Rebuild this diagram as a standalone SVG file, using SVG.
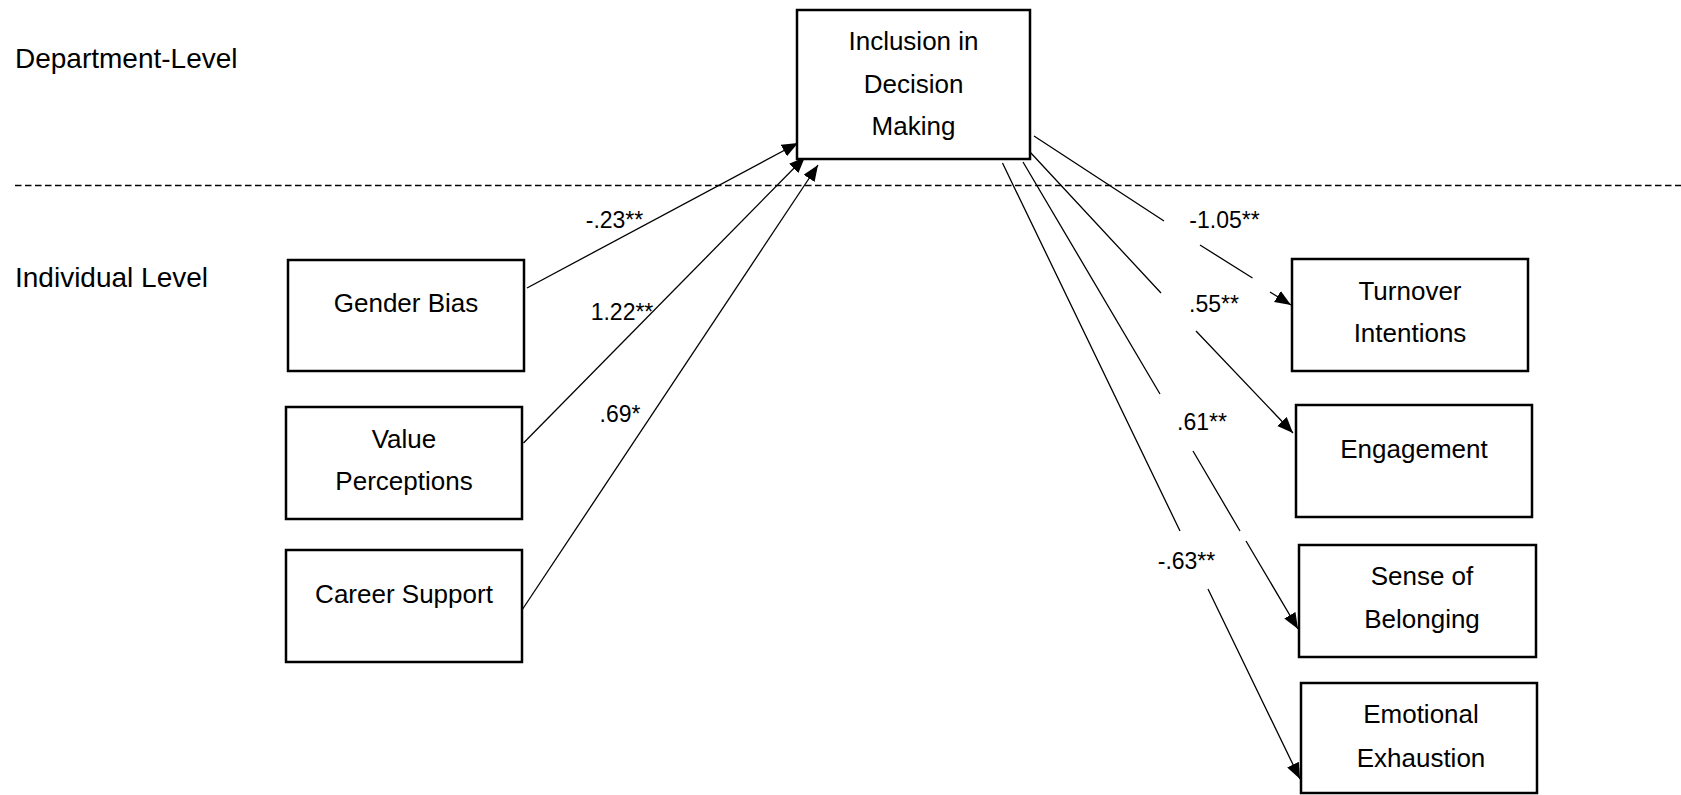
<svg xmlns="http://www.w3.org/2000/svg" width="1681" height="795" viewBox="0 0 1681 795">
<style>
  .box { fill: #ffffff; stroke: #000000; stroke-width: 2.5; }
  .t { font-family: "Liberation Sans", Arial, sans-serif; font-size: 26px; fill: #000000; text-anchor: middle; }
  .lvl { font-family: "Liberation Sans", Arial, sans-serif; font-size: 28px; fill: #000000; }
  .lab { font-family: "Liberation Sans", Arial, sans-serif; font-size: 23px; fill: #000000; text-anchor: middle; }
  .con { fill: none; stroke: #000000; stroke-width: 1.3; marker-end: url(#arr); }
  .dash { fill: none; stroke: #000000; stroke-width: 1.4; stroke-dasharray: 6.5 3.5; }
</style>
<defs>
  <marker id="arr" markerUnits="userSpaceOnUse" markerWidth="18" markerHeight="14" refX="16" refY="6.5" orient="auto">
    <path d="M0,0 L16,6.5 L0,13 z" fill="#000000"/>
  </marker>
</defs>
<rect x="0" y="0" width="1681" height="795" fill="#ffffff"/>

<g id="levels">
  <text class="lvl" x="15" y="68">Department-Level</text>
  <text class="lvl" x="15" y="287">Individual Level</text>
  <line class="dash" x1="15" y1="185.5" x2="1681" y2="185.5"/>
</g>

<g id="connectors">
  <path class="con" d="M527,288 L798,143"/>
  <path class="con" d="M523.5,443 L805,157"/>
  <path class="con" d="M522,610 L818,165"/>
  <path class="con" d="M1034,136 L1164,221 M1200,245 L1252.5,278 M1270,292 L1291,305"/>
  <path class="con" d="M1030,152 L1161,293 M1196,331 L1293,433"/>
  <path class="con" d="M1023,162 L1160,394 M1193,451 L1240,531 M1246,541 L1298,629"/>
  <path class="con" d="M1002.5,163 L1180,531 M1208,589 L1300,779"/>
</g>

<g id="edge-labels">
  <text class="lab" x="614.5" y="228">-.23**</text>
  <text class="lab" x="622" y="320">1.22**</text>
  <text class="lab" x="620" y="422">.69*</text>
  <text class="lab" x="1224.5" y="228">-1.05**</text>
  <text class="lab" x="1214" y="312">.55**</text>
  <text class="lab" x="1202" y="430">.61**</text>
  <text class="lab" x="1186.5" y="569">-.63**</text>
</g>

<g id="inclusion">
  <rect class="box" x="797" y="10" width="233" height="149"/>
  <text class="t" x="913.5" y="50">Inclusion in</text>
  <text class="t" x="913.5" y="93">Decision</text>
  <text class="t" x="913.5" y="135">Making</text>
</g>

<g id="gender-bias">
  <rect class="box" x="288" y="260" width="236" height="111"/>
  <text class="t" x="406" y="312">Gender Bias</text>
</g>

<g id="value-perceptions">
  <rect class="box" x="286" y="407" width="236" height="112"/>
  <text class="t" x="404" y="448">Value</text>
  <text class="t" x="404" y="490">Perceptions</text>
</g>

<g id="career-support">
  <rect class="box" x="286" y="550" width="236" height="112"/>
  <text class="t" x="404" y="603">Career Support</text>
</g>

<g id="turnover">
  <rect class="box" x="1292" y="259" width="236" height="112"/>
  <text class="t" x="1410" y="300">Turnover</text>
  <text class="t" x="1410" y="342">Intentions</text>
</g>

<g id="engagement">
  <rect class="box" x="1296" y="405" width="236" height="112"/>
  <text class="t" x="1414" y="458">Engagement</text>
</g>

<g id="belonging">
  <rect class="box" x="1299" y="545" width="237" height="112"/>
  <text class="t" x="1422" y="585">Sense of</text>
  <text class="t" x="1422" y="628">Belonging</text>
</g>

<g id="exhaustion">
  <rect class="box" x="1301" y="683" width="236" height="110"/>
  <text class="t" x="1421" y="723">Emotional</text>
  <text class="t" x="1421" y="767">Exhaustion</text>
</g>
</svg>
